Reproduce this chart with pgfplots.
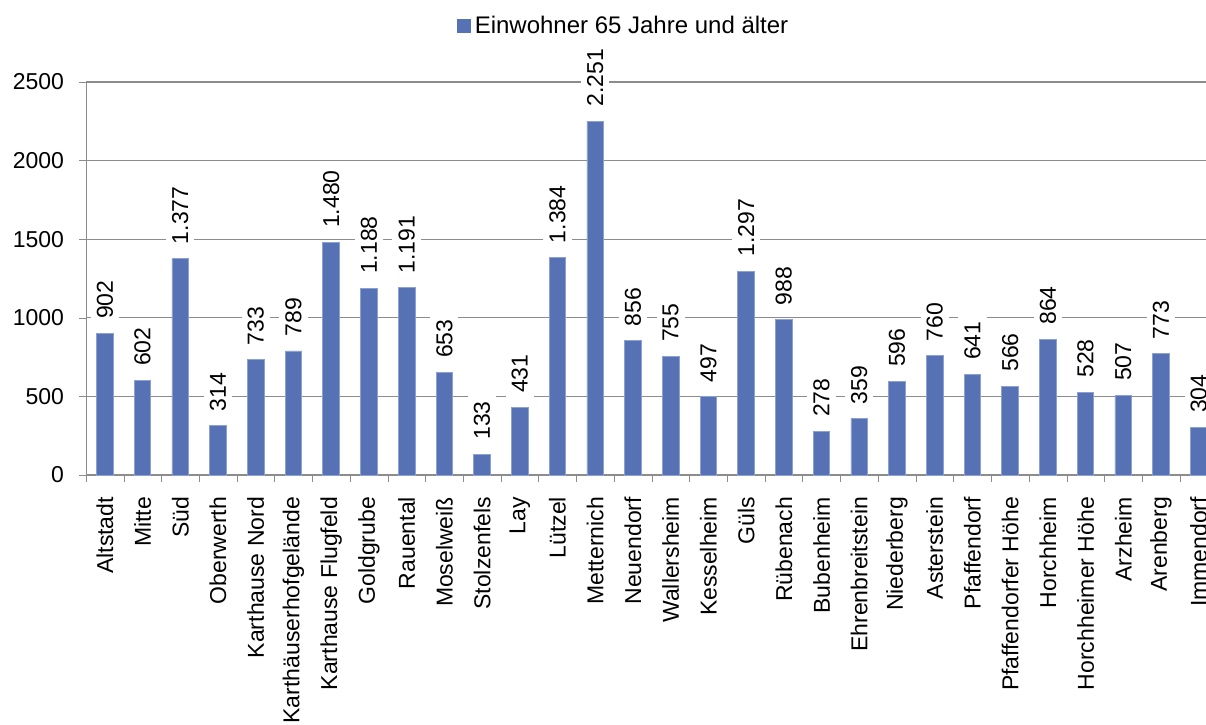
\documentclass[border=0pt]{standalone}
\usepackage{pgfplots}
\pgfplotsset{compat=1.18}
\usepackage{pgfplotstable}
\usepackage{fontspec}
\setmainfont{Liberation Sans}

\definecolor{barblue}{RGB}{86,114,180}
\definecolor{baredge}{RGB}{140,160,210}
\definecolor{gridgray}{RGB}{140,140,140}

\pgfplotstableread[col sep=comma]{
x,val
0,902
1,602
2,1377
3,314
4,733
5,789
6,1480
7,1188
8,1191
9,653
10,133
11,431
12,1384
13,2251
14,856
15,755
16,497
17,1297
18,988
19,278
20,359
21,596
22,760
23,641
24,566
25,864
26,528
27,507
28,773
29,304
}\datatable

\begin{document}
\begin{tikzpicture}
\begin{axis}[
    at={(43pt,124.5pt)}, anchor=south west,
    width=565.8pt, height=196.5pt, scale only axis,
    font=\fontsize{11.5pt}{13.5pt}\selectfont,
    /pgf/number format/assume math mode=true,
    ybar, bar width=8.3pt,
    xmin=-0.5, xmax=29.5,
    ymin=0, ymax=2500,
    ytick={0,500,...,2500},
    yticklabel style={/pgf/number format/1000 sep={}, xshift=-4pt},
    xtick={0,...,29},
    xticklabels={Altstadt,Mitte,Süd,Oberwerth,Karthause Nord,Karthäuserhofgelände,Karthause Flugfeld,Goldgrube,Rauental,Moselweiß,Stolzenfels,Lay,Lützel,Metternich,Neuendorf,Wallersheim,Kesselheim,Güls,Rübenach,Bubenheim,Ehrenbreitstein,Niederberg,Asterstein,Pfaffendorf,Pfaffendorfer Höhe,Horchheim,Horchheimer Höhe,Arzheim,Arenberg,Immendorf},
    xticklabel style={rotate=90, anchor=east, xshift=-4pt},
    minor xtick={-0.5,0.5,...,29.5},
    major x tick style={draw=none},
    minor x tick style={gridgray},
    minor tick length=3.5pt,
    y tick style={gridgray},
    major tick length=3.5pt,
    tick align=outside,
    axis x line*=bottom, axis y line*=left,
    axis line style={gridgray},
    ymajorgrids, grid style={gridgray, line width=0.6pt},
    legend style={at={(axis description cs:0.476,1.1425)}, anchor=center, draw=none, fill=none,
        font=\fontsize{12pt}{14pt}\selectfont,
        /tikz/every even column/.append style={column sep=2pt}},
    legend image code/.code={\fill[barblue] (0pt,-3.3pt) rectangle (6.5pt,3.3pt);},
    nodes near coords={\pgfmathprintnumber[1000 sep={.}, fixed, precision=0]{\pgfplotspointmeta}},
    every node near coord/.append style={yshift=4pt, rotate=90, anchor=west, fill=white, text=black, inner sep=3pt},
]
\addplot[fill=barblue, draw=baredge, line width=0.4pt] table[x=x, y=val] {\datatable};
\addlegendentry{Einwohner 65 Jahre und älter}
\end{axis}
\pgfresetboundingbox
\useasboundingbox (0,0) rectangle (603pt,362pt);
\end{tikzpicture}
\end{document}
